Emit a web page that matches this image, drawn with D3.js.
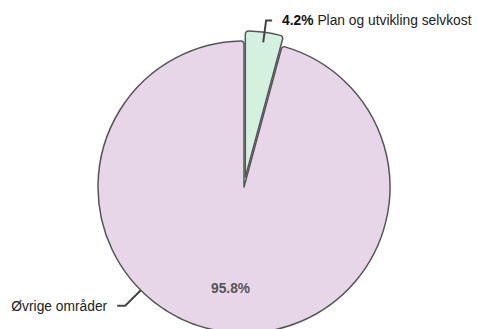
<!DOCTYPE html>
<html>
<head>
<meta charset="utf-8">
<script src="https://cdn.jsdelivr.net/npm/d3@7"></script>
<style>
  html, body { margin: 0; padding: 0; background: #fff; }
  svg { display: block; }
  text { font-family: "Liberation Sans", Arial, sans-serif; }
</style>
</head>
<body>
<svg id="chart" width="477" height="329"></svg>
<script>
// Budget share by area
const categories = ["Plan og utvikling selvkost", "Øvrige områder"];
const values = [4.2, 95.8];
const percentLabels = ["4.2%", "95.8%"];
const colors = ["#d4f1e0", "#e7d6e8"];
const exploded = [true, false];
// angle (degrees, clockwise from top) where each outside label's leader line leaves the pie
const leaderAngles = [7.56, 225];

const width = 477, height = 329;
const cx = 244, cy = 187, radius = 146;
const pullOut = 10;
const fontSize = 13.8;

const svg = d3.select("#chart");
const g = svg.append("g").attr("transform", `translate(${cx},${cy})`);

const pie = d3.pie().sort(null).value(d => d.value);
const data = categories.map((c, i) => ({ name: c, value: values[i], pct: percentLabels[i], color: colors[i], pull: exploded[i], leader: leaderAngles[i] }));
const arcs = pie(data);

const arc = d3.arc().innerRadius(0).outerRadius(radius).cornerRadius(3);

// draw the large slice first so the pulled slice sits on top
const order = arcs.slice().sort((a, b) => (a.data.pull ? 1 : 0) - (b.data.pull ? 1 : 0));

g.selectAll("path.slice")
  .data(order)
  .join("path")
  .attr("class", "slice")
  .attr("d", arc)
  .attr("fill", d => d.data.color)
  .attr("stroke", "#555")
  .attr("stroke-width", 1.5)
  .attr("stroke-linejoin", "round")
  .attr("transform", d => {
    if (!d.data.pull) return null;
    const mid = (d.startAngle + d.endAngle) / 2;
    return `translate(${pullOut * Math.sin(mid)},${-pullOut * Math.cos(mid)})`;
  });

// percentage inside the large slice
const inner = d3.arc().innerRadius(radius * 0.7).outerRadius(radius * 0.7);
arcs.filter(d => !d.data.pull).forEach(d => {
  const [x, y] = inner.centroid(d);
  g.append("text")
    .attr("x", x).attr("y", y)
    .attr("text-anchor", "middle")
    .attr("dominant-baseline", "central")
    .attr("font-size", fontSize)
    .attr("font-weight", "bold")
    .attr("fill", "#555")
    .text(d.data.pct);
});

// outside labels with leader lines
arcs.forEach(d => {
  const a = d.data.leader * Math.PI / 180;
  const p0 = [radius * Math.sin(a), -radius * Math.cos(a)];
  const p1 = [(radius + 22) * Math.sin(a), -(radius + 22) * Math.cos(a)];
  const right = Math.sin(a) >= 0;
  const p2 = [p1[0] + (right ? 6 : -8), p1[1]];
  g.append("path")
    .attr("d", d3.line()([p0, p1, p2]))
    .attr("fill", "none")
    .attr("stroke", "#444")
    .attr("stroke-width", 2);

  const t = g.append("text")
    .attr("x", p2[0] + (right ? 10 : -10))
    .attr("y", p2[1])
    .attr("text-anchor", right ? "start" : "end")
    .attr("dominant-baseline", "central")
    .attr("font-size", fontSize)
    .attr("fill", "#222");
  if (d.data.pull) {
    t.append("tspan").attr("font-weight", "bold").attr("fill", "#111").text(d.data.pct + " ");
  }
  t.append("tspan").text(d.data.name);
});
</script>
</body>
</html>
